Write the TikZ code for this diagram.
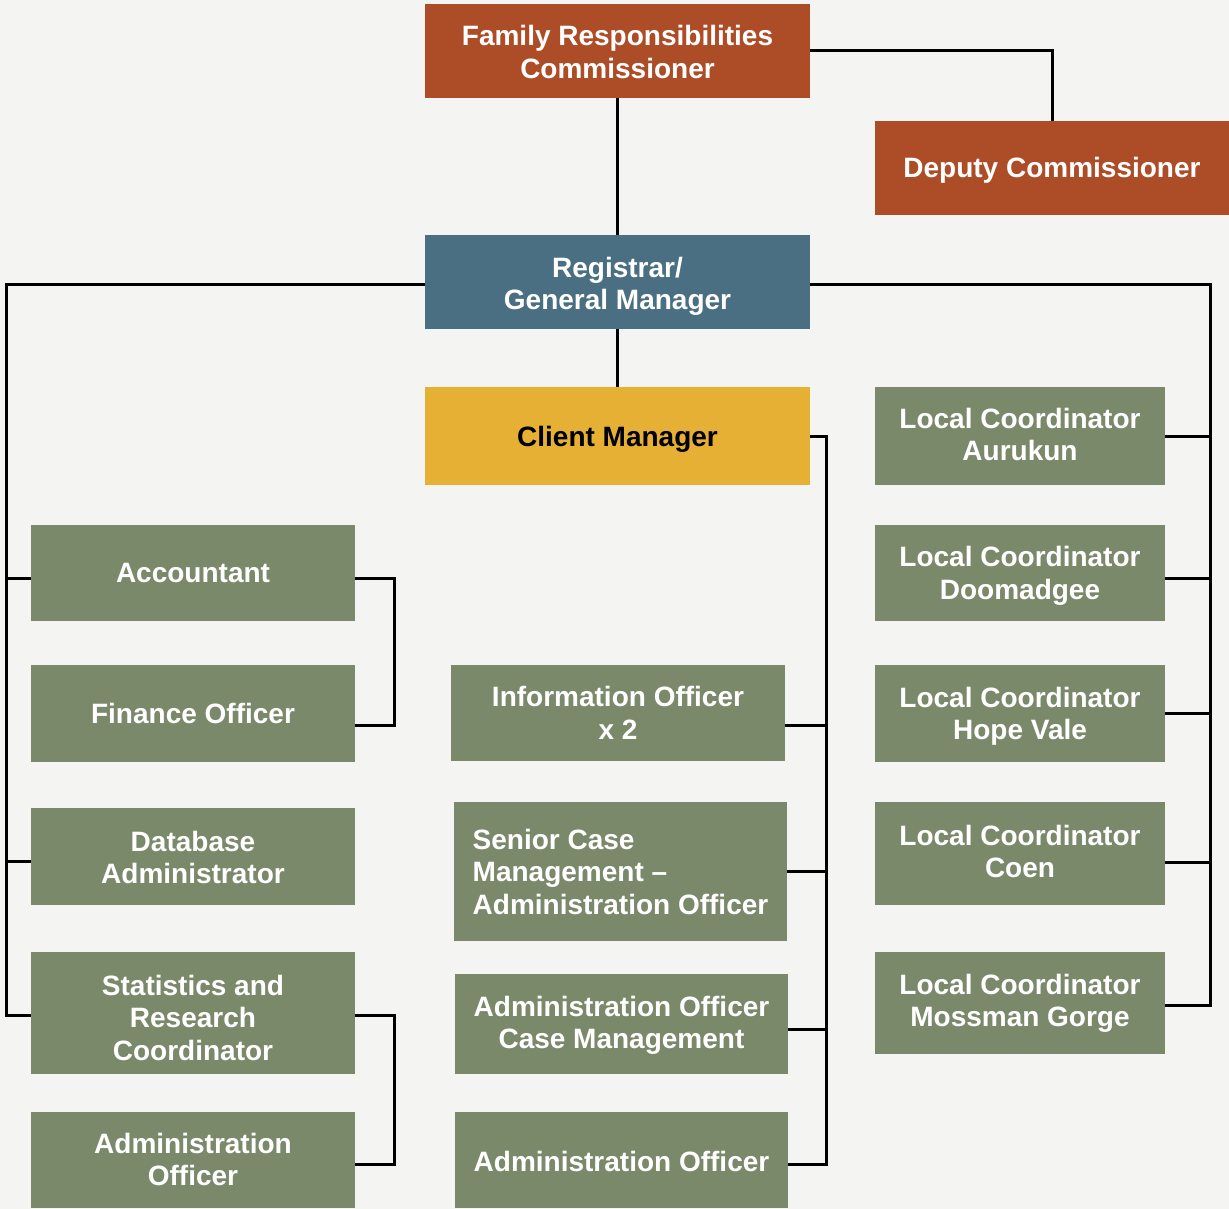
\documentclass[tikz,border=0pt]{standalone}
\usepackage{fontspec}
\setmainfont{Liberation Sans}
\definecolor{bgc}{HTML}{F4F4F2}
\definecolor{rust}{HTML}{AD4D28}
\definecolor{slate}{HTML}{4A6F82}
\definecolor{gold}{HTML}{E6B034}
\definecolor{sage}{HTML}{7B896B}
\tikzset{
  box/.style={rectangle, inner sep=0pt, align=center, text=white,
    font=\fontsize{28}{32.5}\selectfont\bfseries},
  bdown/.style={text height=#1, text depth=0pt},
  rustbox/.style={box, fill=rust},
  slatebox/.style={box, fill=slate},
  goldbox/.style={box, fill=gold, text=black},
  sagebox/.style={box, fill=sage},
  conn/.style={draw=black, line width=3pt, line join=miter}
}
\begin{document}
\begin{tikzpicture}[x=1pt,y=-1pt]
\fill[bgc] (0,0) rectangle (1229,1209);
\useasboundingbox (0,0) rectangle (1229,1209);

% top level
\node[rustbox, bdown=55pt, minimum width=385pt, minimum height=94pt] (frc) at (617.5,51) {Family Responsibilities\\Commissioner};
\node[rustbox, bdown=20pt, minimum width=354pt, minimum height=94pt] (dep) at (1052,168) {Deputy Commissioner};
\node[slatebox, bdown=55pt, minimum width=385pt, minimum height=94pt] (reg) at (617.5,282) {Registrar/\\General Manager};
\node[goldbox, bdown=20pt, minimum width=385pt, minimum height=98pt] (cm) at (617.5,436) {Client Manager};

% right column
\node[sagebox, bdown=49pt, minimum width=290pt, minimum height=98pt] (lcA) at (1020,436) {Local Coordinator\\Aurukun};
\node[sagebox, bdown=52.4pt, minimum width=290pt, minimum height=96pt] (lcD) at (1020,573) {Local Coordinator\\Doomadgee};
\node[sagebox, bdown=52pt, minimum width=290pt, minimum height=97pt] (lcH) at (1020,713.5) {Local Coordinator\\Hope Vale};
\node[sagebox, bdown=48pt, minimum width=290pt, minimum height=103pt] (lcC) at (1020,853.5) {Local Coordinator\\Coen};
\node[sagebox, bdown=47pt, minimum width=290pt, minimum height=102pt] (lcM) at (1020,1003) {Local Coordinator\\Mossman Gorge};

% left column
\node[sagebox, bdown=18pt, minimum width=324pt, minimum height=96pt] (acc) at (193,573) {Accountant};
\node[sagebox, bdown=19pt, minimum width=324pt, minimum height=97pt] (fin) at (193,713.5) {Finance Officer};
\node[sagebox, bdown=54pt, minimum width=324pt, minimum height=97pt] (db) at (193,856.5) {Database\\Administrator};
\node[sagebox, bdown=94pt, minimum width=324pt, minimum height=122pt] (stat) at (193,1013) {Statistics and\\Research\\Coordinator};
\node[sagebox, bdown=51pt, minimum width=324pt, minimum height=96pt] (admL) at (193,1160) {Administration\\Officer};

% middle column
\node[sagebox, bdown=52.4pt, minimum width=334pt, minimum height=96pt] (info) at (618,713) {Information Officer\\x 2};
\node[sagebox, bdown=85pt, minimum width=333pt, minimum height=139pt, align=left] (sen) at (620.5,871.5) {Senior Case\\Management --\\Administration Officer};
\node[sagebox, bdown=49pt, minimum width=333pt, minimum height=100pt] (admCM) at (621.5,1024) {Administration Officer\\Case Management};
\node[sagebox, bdown=22pt, minimum width=333pt, minimum height=96pt] (admM) at (621.5,1160) {Administration Officer};

% trunk coordinates
\coordinate (lt) at (6,284);
\coordinate (rt) at (1210,284);
\coordinate (ct) at (826,436);

% connectors
\draw[conn] (frc.east) -| (dep.north);
\draw[conn] (frc.south) -- (reg.north);
\draw[conn] (reg.south) -- (cm.north);

\draw[conn] ([yshift=-2pt]reg.west) -- (lt) |- ([yshift=-2pt]stat.west);
\draw[conn] ([yshift=-5pt]acc.west) -- ([yshift=-5pt]acc.west -| lt);
\draw[conn] ([yshift=-4.5pt]db.west) -- ([yshift=-4.5pt]db.west -| lt);

\draw[conn] ([yshift=-2pt]reg.east) -- (rt) |- ([yshift=-2pt]lcM.east);
\draw[conn] (lcA.east) -- (lcA.east -| rt);
\draw[conn] ([yshift=-5pt]lcD.east) -- ([yshift=-5pt]lcD.east -| rt);
\draw[conn] (lcH.east) -- (lcH.east -| rt);
\draw[conn] ([yshift=-8.5pt]lcC.east) -- ([yshift=-8.5pt]lcC.east -| rt);

\draw[conn] (cm.east) -- (ct) |- ([yshift=-4pt]admM.east);
\draw[conn] ([yshift=-12pt]info.east) -- ([yshift=-12pt]info.east -| ct);
\draw[conn] (sen.east) -- (sen.east -| ct);
\draw[conn] ([yshift=-5pt]admCM.east) -- ([yshift=-5pt]admCM.east -| ct);

\draw[conn] ([yshift=-5pt]acc.east) -- ++(39pt,0) |- ([yshift=-11.5pt]fin.east);
\draw[conn] ([yshift=-2pt]stat.east) -- ++(39pt,0) |- ([yshift=-4pt]admL.east);
\end{tikzpicture}
\end{document}
